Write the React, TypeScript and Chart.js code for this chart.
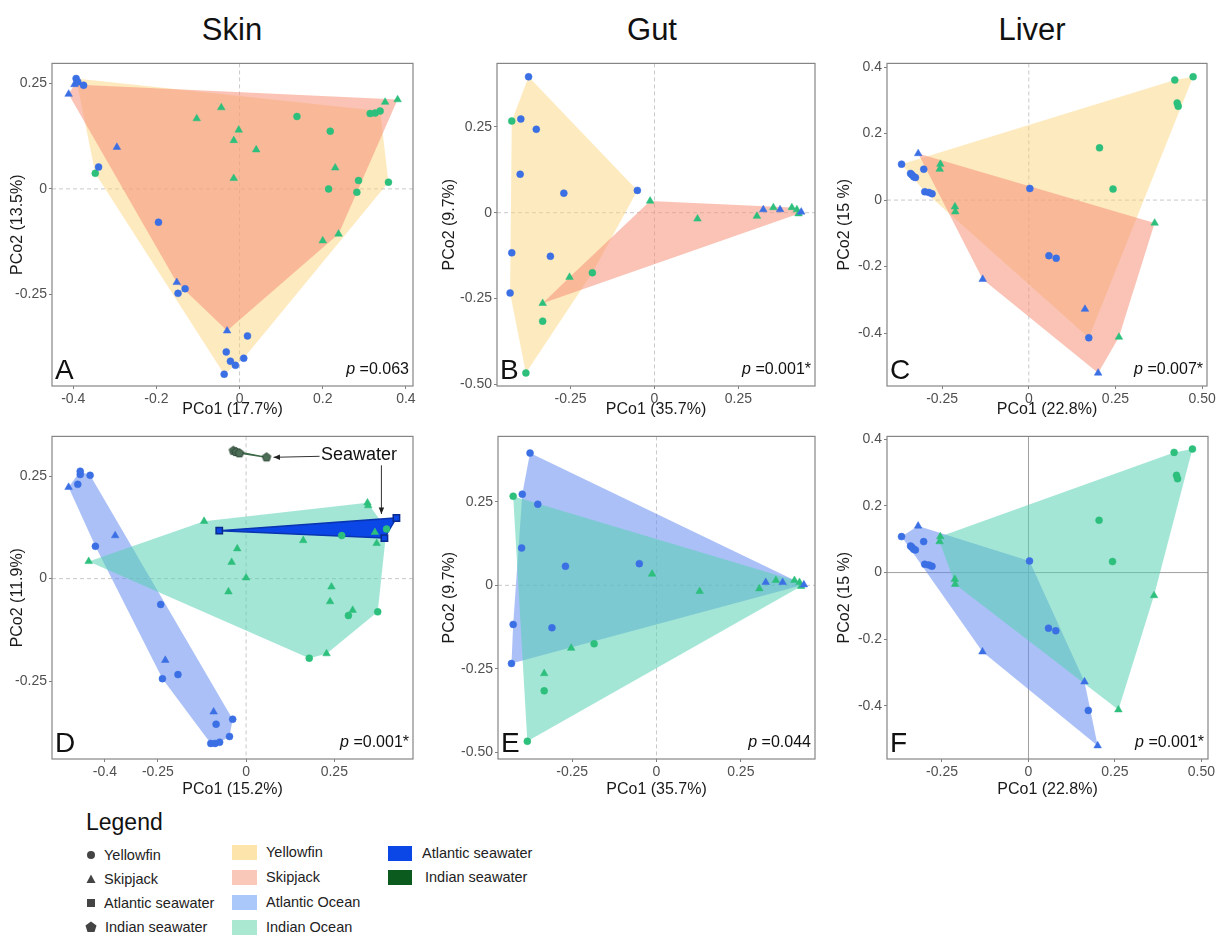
import React, { useEffect, useRef } from 'react';
import { Chart, registerables } from 'chart.js';

Chart.register(...registerables);

type Pt = [number, number];

const FONT = '"Liberation Sans", Arial, Helvetica, sans-serif';

// ---- Skin, panel A (hulls by species) ----
const skinA_yellowfinAtlantic: Pt[] = [
  [-0.393, 0.262], [-0.389, 0.254], [-0.375, 0.246], [-0.339, 0.052], [-0.195, -0.079],
  [-0.148, -0.248], [-0.131, -0.237], [0.019, -0.349], [-0.032, -0.387], [-0.022, -0.409],
  [-0.01, -0.419], [0.01, -0.402], [-0.037, -0.44],
];
const skinA_skipjackAtlantic: Pt[] = [
  [-0.411, 0.225], [-0.397, 0.248], [-0.295, 0.099], [-0.151, -0.222], [-0.03, -0.337],
];
const skinA_yellowfinIndian: Pt[] = [
  [-0.347, 0.037], [0.138, 0.172], [0.218, 0.137], [0.214, 0.0], [0.286, 0.02],
  [0.282, -0.008], [0.314, 0.179], [0.326, 0.18], [0.338, 0.185], [0.358, 0.016],
];
const skinA_skipjackIndian: Pt[] = [
  [-0.103, 0.167], [-0.044, 0.193], [-0.002, 0.14], [-0.014, 0.115], [0.04, 0.093],
  [-0.014, 0.025], [0.23, 0.05], [0.2, -0.123], [0.238, -0.107], [0.35, 0.206], [0.38, 0.212],
];

// ---- Skin with seawater, panel D (hulls by ocean) ----
const skinD_yellowfinAtlantic: Pt[] = [
  [-0.477, 0.23], [-0.47, 0.262], [-0.47, 0.254], [-0.442, 0.252], [-0.427, 0.079],
  [-0.242, -0.063], [-0.237, -0.244], [-0.193, -0.234], [-0.085, -0.355], [-0.038, -0.343],
  [-0.047, -0.385], [-0.1, -0.402], [-0.088, -0.402], [-0.075, -0.399],
];
const skinD_skipjackAtlantic: Pt[] = [
  [-0.503, 0.223], [-0.371, 0.105], [-0.229, -0.199], [-0.092, -0.325],
];
const skinD_yellowfinIndian: Pt[] = [
  [0.271, 0.105], [0.398, 0.121], [0.29, -0.09], [0.373, -0.081], [0.179, -0.194],
];
const skinD_skipjackIndian: Pt[] = [
  [-0.446, 0.042], [-0.119, 0.14], [-0.025, 0.073], [-0.041, 0.04], [0.0, 0.002],
  [-0.05, -0.032], [0.162, 0.093], [0.344, 0.185], [0.346, 0.178], [0.365, 0.113],
  [0.37, 0.086], [0.242, -0.02], [0.238, -0.056], [0.302, -0.077], [0.228, -0.183],
];
const skinD_seawaterAtlantic: Pt[] = [[-0.076, 0.117], [0.426, 0.148], [0.392, 0.099]];
const skinD_seawaterIndian: Pt[] = [[-0.036, 0.312], [-0.028, 0.309], [-0.019, 0.306], [0.058, 0.296]];

// ---- Gut, panels B and E ----
const gut_yellowfinAtlantic: Pt[] = [
  [-0.375, 0.396], [-0.398, 0.273], [-0.352, 0.243], [-0.4, 0.112], [-0.27, 0.057],
  [-0.051, 0.065], [-0.425, -0.117], [-0.31, -0.127], [-0.43, -0.234],
];
const gut_yellowfinIndian: Pt[] = [[-0.425, 0.267], [-0.185, -0.175], [-0.333, -0.316], [-0.383, -0.467]];
const gut_skipjackIndian: Pt[] = [
  [-0.013, 0.034], [-0.253, -0.188], [-0.333, -0.264], [0.128, -0.018], [0.305, -0.01],
  [0.354, 0.015], [0.409, 0.015], [0.424, 0.009], [0.429, -0.003],
];
const gut_skipjackAtlantic: Pt[] = [[0.324, 0.009], [0.374, 0.009], [0.437, 0.002]];

// ---- Liver, panels C and F ----
const liver_yellowfinAtlantic: Pt[] = [
  [-0.367, 0.108], [-0.341, 0.08], [-0.337, 0.076], [-0.332, 0.07], [-0.327, 0.068],
  [-0.303, 0.093], [-0.3, 0.025], [-0.288, 0.023], [-0.279, 0.019], [0.003, 0.035],
  [0.058, -0.167], [0.079, -0.175], [0.173, -0.414],
];
const liver_skipjackAtlantic: Pt[] = [[-0.319, 0.14], [-0.133, -0.238], [0.162, -0.328], [0.2, -0.52]];
const liver_yellowfinIndian: Pt[] = [
  [0.421, 0.361], [0.474, 0.371], [0.428, 0.292], [0.431, 0.282], [0.204, 0.157], [0.243, 0.033],
];
const liver_skipjackIndian: Pt[] = [
  [-0.255, 0.108], [-0.257, 0.093], [-0.213, -0.02], [-0.212, -0.035], [0.363, -0.069], [0.26, -0.412],
];

// ---- axes ----
const skinA_xTicks = [-0.4, -0.2, 0, 0.2, 0.4];
const skinA_xLabels = ['-0.4', '-0.2', '0', '0.2', '0.4'];
const skinD_xTicks = [-0.4, -0.25, 0, 0.25];
const skinD_xLabels = ['-0.4', '-0.25', '0', '0.25'];
const skin_yTicks = [-0.25, 0, 0.25];
const skin_yLabels = ['-0.25', '0', '0.25'];
const gut_xTicks = [-0.25, 0, 0.25];
const gut_xLabels = ['-0.25', '0', '0.25'];
const gut_yTicks = [-0.5, -0.25, 0, 0.25];
const gut_yLabels = ['-0.50', '-0.25', '0', '0.25'];
const liver_xTicks = [-0.25, 0, 0.25, 0.5];
const liver_xLabels = ['-0.25', '0', '0.25', '0.50'];
const liver_yTicks = [-0.4, -0.2, 0, 0.2, 0.4];
const liver_yLabels = ['-0.4', '-0.2', '0', '0.2', '0.4'];

const columnTitles = ['Skin', 'Gut', 'Liver'];
const pValues = ['0.063', '0.001*', '0.007*', '0.001*', '0.044', '0.001*'];

const ATL = '#3b6fe4';
const IND = '#2dbf7c';
const HULL_YF = 'rgba(252, 210, 120, 0.47)';
const HULL_SJ = 'rgba(245, 145, 120, 0.55)';
const HULL_ATL = 'rgba(100, 140, 240, 0.55)';
const HULL_IND = 'rgba(90, 210, 180, 0.55)';
const SEA_ATL = '#0b46e6';
const SEA_IND = '#0b5a1e';

function convexHull(pts: Pt[]): Pt[] {
  const s = [...pts].sort((a, b) => a[0] - b[0] || a[1] - b[1]);
  const cross = (o: Pt, a: Pt, b: Pt) => (a[0] - o[0]) * (b[1] - o[1]) - (a[1] - o[1]) * (b[0] - o[0]);
  const lower: Pt[] = [];
  for (const p of s) {
    while (lower.length >= 2 && cross(lower[lower.length - 2], lower[lower.length - 1], p) <= 0) lower.pop();
    lower.push(p);
  }
  const upper: Pt[] = [];
  for (let i = s.length - 1; i >= 0; i--) {
    const p = s[i];
    while (upper.length >= 2 && cross(upper[upper.length - 2], upper[upper.length - 1], p) <= 0) upper.pop();
    upper.push(p);
  }
  upper.pop();
  lower.pop();
  const h = lower.concat(upper);
  h.push(h[0]);
  return h;
}

function pentagon(r: number, fill: string, stroke: string) {
  const c = document.createElement('canvas');
  const s = Math.ceil(r * 2 + 3);
  c.width = s;
  c.height = s;
  const ctx = c.getContext('2d')!;
  ctx.beginPath();
  for (let i = 0; i < 5; i++) {
    const a = -Math.PI / 2 + (i * 2 * Math.PI) / 5;
    ctx.lineTo(s / 2 + r * Math.cos(a), s / 2 + r * Math.sin(a));
  }
  ctx.closePath();
  ctx.fillStyle = fill;
  ctx.fill();
  ctx.strokeStyle = stroke;
  ctx.lineWidth = 1;
  ctx.stroke();
  return c;
}

type Group = { pts: Pt[]; color: string; style: string; border?: string };
type Hull = { pts: Pt[]; fill: string; border?: string; width?: number };

type PanelProps = {
  left: number; right: number; top: number; bottom: number;
  yTitleX: number; xTitleY: number;
  xTitle: string; yTitle: string;
  xMin: number; xMax: number; yMin: number; yMax: number;
  xTicks: number[]; xLabels: string[]; yTicks: number[]; yLabels: string[];
  groups: Group[]; hulls: Hull[];
  letter: string; p: string;
  solidZero?: boolean; seawater?: boolean;
};

function Panel(props: PanelProps) {
  const ref = useRef<HTMLCanvasElement | null>(null);
  const cl = props.yTitleX - 12;
  const ct = props.top - 10;
  const cr = props.right + 14;
  const cb = props.xTitleY + 12;
  const w = cr - cl;
  const h = cb - ct;

  useEffect(() => {
    if (!ref.current) return;
    const pointSets = props.groups.map((g, i) => {
      let style: any = g.style;
      let radius = g.style === 'triangle' ? 4.4 : 3.5;
      if (g.style === 'pentagon') style = pentagon(4.5, '#4d6e57', '#2d4535');
      if (g.style === 'rect') radius = 4.5;
      return {
        type: 'scatter' as const,
        data: g.pts.map(([x, y]) => ({ x, y })),
        pointStyle: style,
        pointRadius: radius,
        backgroundColor: g.color,
        borderColor: g.border ?? g.color,
        borderWidth: g.border ? 1.5 : 0.5,
        order: i,
      };
    });
    const hullSets = props.hulls.map((hl, i) => ({
      type: 'line' as const,
      data: convexHull(hl.pts).map(([x, y]) => ({ x, y })),
      backgroundColor: hl.fill,
      borderColor: hl.border ?? 'rgba(0,0,0,0)',
      borderWidth: hl.width ?? 0.01,
      pointRadius: 0,
      tension: 0,
      fill: 'shape' as const,
      order: 30 - i,
    }));

    const framePlugin = {
      id: 'frame',
      beforeDatasetsDraw(chart: any) {
        const { ctx, chartArea: a, scales } = chart;
        const x0 = scales.x.getPixelForValue(0);
        const y0 = scales.y.getPixelForValue(0);
        ctx.save();
        ctx.lineWidth = 1;
        ctx.strokeStyle = props.solidZero ? '#a0a0a0' : '#c9c9c9';
        ctx.setLineDash(props.solidZero ? [] : [4, 3]);
        ctx.beginPath();
        ctx.moveTo(x0, a.top);
        ctx.lineTo(x0, a.bottom);
        ctx.moveTo(a.left, y0);
        ctx.lineTo(a.right, y0);
        ctx.stroke();
        ctx.restore();
      },
      afterDatasetsDraw(chart: any) {
        const { ctx, chartArea: a, scales } = chart;
        ctx.save();
        ctx.strokeStyle = '#858585';
        ctx.lineWidth = 1.2;
        ctx.strokeRect(a.left, a.top, a.right - a.left, a.bottom - a.top);
        if (props.seawater) {
          const arrow = (x1: number, y1: number, x2: number, y2: number) => {
            const ang = Math.atan2(y2 - y1, x2 - x1);
            ctx.beginPath();
            ctx.moveTo(x1, y1);
            ctx.lineTo(x2, y2);
            ctx.stroke();
            ctx.beginPath();
            ctx.moveTo(x2, y2);
            ctx.lineTo(x2 - 7 * Math.cos(ang - 0.4), y2 - 7 * Math.sin(ang - 0.4));
            ctx.lineTo(x2 - 7 * Math.cos(ang + 0.4), y2 - 7 * Math.sin(ang + 0.4));
            ctx.closePath();
            ctx.fill();
          };
          ctx.strokeStyle = '#333';
          ctx.fillStyle = '#222';
          ctx.lineWidth = 1;
          const last = skinD_seawaterIndian[skinD_seawaterIndian.length - 1];
          const tx = scales.x.getPixelForValue(last[0]) + 7;
          const ty = scales.y.getPixelForValue(last[1]);
          arrow(tx + 46, ty - 1, tx, ty);
          const top = skinD_seawaterAtlantic.reduce((m, p) => (p[1] > m[1] ? p : m));
          const vx = scales.x.getPixelForValue(top[0]) - 15;
          const vy = scales.y.getPixelForValue(top[1]);
          arrow(vx, ty + 8, vx, vy - 4);
        }
        ctx.restore();
      },
    };

    const scaleBase = {
      type: 'linear' as const,
      grid: { drawOnChartArea: false, drawTicks: true, tickLength: 3, color: '#808080' },
      border: { display: false },
    };

    const chart = new Chart(ref.current, {
      type: 'scatter',
      data: { datasets: [...pointSets, ...hullSets] as any },
      plugins: [framePlugin],
      options: {
        animation: false,
        responsive: false,
        layout: { padding: { top: props.top - ct, right: cr - props.right, left: 0, bottom: 0 } },
        plugins: { legend: { display: false }, tooltip: { enabled: false } },
        scales: {
          x: {
            ...scaleBase,
            min: props.xMin,
            max: props.xMax,
            afterBuildTicks: (axis: any) => { axis.ticks = props.xTicks.map((v) => ({ value: v })); },
            afterFit: (axis: any) => { axis.height = cb - props.bottom; },
            ticks: {
              autoSkip: false, maxRotation: 0, padding: 2, color: '#505050',
              font: { family: FONT, size: 14 },
              callback: (_v: any, i: number) => props.xLabels[i],
            },
            title: {
              display: true, text: props.xTitle, color: '#1a1a1a',
              font: { family: FONT, size: 16 }, padding: { top: 0, bottom: 12 - 9.6 },
            },
          },
          y: {
            ...scaleBase,
            min: props.yMin,
            max: props.yMax,
            afterBuildTicks: (axis: any) => { axis.ticks = props.yTicks.map((v) => ({ value: v })); },
            afterFit: (axis: any) => { axis.width = props.left - cl; },
            ticks: {
              autoSkip: false, padding: 2, color: '#505050',
              font: { family: FONT, size: 14 },
              callback: (_v: any, i: number) => props.yLabels[i],
            },
            title: {
              display: true, text: props.yTitle, color: '#1a1a1a',
              font: { family: FONT, size: 16 }, padding: { top: 12 - 9.6, bottom: 0 },
            },
          },
        },
      },
    });
    return () => chart.destroy();
  }, []);

  return (
    <>
      <canvas ref={ref} width={w} height={h} style={{ position: 'absolute', left: cl, top: ct, width: w, height: h }} />
      <div style={{ position: 'absolute', left: props.left + 3, top: props.bottom - 30, fontSize: 28, lineHeight: '28px', color: '#111' }}>
        {props.letter}
      </div>
      <div style={{ position: 'absolute', right: 1228 - (props.right - 4), top: props.bottom - 25, fontSize: 16, lineHeight: '16px', color: '#111', whiteSpace: 'nowrap' }}>
        <i>p</i> ={props.p}
      </div>
    </>
  );
}

const topRow = { top: 63, bottom: 386, xTitleY: 410 };
const botRow = { top: 436, bottom: 759, xTitleY: 790 };

export default function App() {
  const gutBySpecies: Hull[] = [
    { pts: [...gut_yellowfinAtlantic, ...gut_yellowfinIndian], fill: HULL_YF },
    { pts: [...gut_skipjackAtlantic, ...gut_skipjackIndian], fill: HULL_SJ },
  ];
  const gutByOcean: Hull[] = [
    { pts: [...gut_yellowfinAtlantic, ...gut_skipjackAtlantic], fill: HULL_ATL },
    { pts: [...gut_yellowfinIndian, ...gut_skipjackIndian], fill: HULL_IND },
  ];
  const liverBySpecies: Hull[] = [
    { pts: [...liver_yellowfinAtlantic, ...liver_yellowfinIndian], fill: HULL_YF },
    { pts: [...liver_skipjackAtlantic, ...liver_skipjackIndian], fill: HULL_SJ },
  ];
  const liverByOcean: Hull[] = [
    { pts: [...liver_yellowfinAtlantic, ...liver_skipjackAtlantic], fill: HULL_ATL },
    { pts: [...liver_yellowfinIndian, ...liver_skipjackIndian], fill: HULL_IND },
  ];
  const gutGroups: Group[] = [
    { pts: gut_yellowfinAtlantic, color: ATL, style: 'circle' },
    { pts: gut_skipjackAtlantic, color: ATL, style: 'triangle' },
    { pts: gut_yellowfinIndian, color: IND, style: 'circle' },
    { pts: gut_skipjackIndian, color: IND, style: 'triangle' },
  ];
  const liverGroups: Group[] = [
    { pts: liver_yellowfinAtlantic, color: ATL, style: 'circle' },
    { pts: liver_skipjackAtlantic, color: ATL, style: 'triangle' },
    { pts: liver_yellowfinIndian, color: IND, style: 'circle' },
    { pts: liver_skipjackIndian, color: IND, style: 'triangle' },
  ];

  const titleX = [232, 652, 1032];
  const shapeItems = ['Yellowfin', 'Skipjack', 'Atlantic seawater', 'Indian seawater'];
  const shapeY = [855, 879, 903, 927];
  const fillItems = ['Yellowfin', 'Skipjack', 'Atlantic Ocean', 'Indian Ocean'];
  const fillColors = ['#fde4aa', '#fac8b9', '#aac8fa', '#aae8d2'];
  const fillY = [852, 877, 902, 927];
  const seaItems = ['Atlantic seawater', 'Indian seawater'];
  const seaColors = [SEA_ATL, SEA_IND];
  const seaY = [853, 877];

  const shapeIcon = (i: number) => {
    const c = '#444';
    if (i === 0) return <circle cx={6} cy={6} r={4} fill={c} />;
    if (i === 1) return <polygon points="6,1.5 10.5,10 1.5,10" fill={c} />;
    if (i === 2) return <rect x={2} y={2} width={8} height={8} fill={c} />;
    return <polygon points="6,0.5 11.5,4.5 9.5,11 2.5,11 0.5,4.5" fill={c} />;
  };

  return (
    <div style={{ position: 'absolute', left: 0, top: 0, width: 1228, height: 936, background: '#fff', fontFamily: FONT, color: '#1a1a1a', overflow: 'hidden' }}>
      {columnTitles.map((t, i) => (
        <div key={t} style={{ position: 'absolute', left: titleX[i] - 100, width: 200, top: 11, textAlign: 'center', fontSize: 31, lineHeight: '38px', color: '#111' }}>{t}</div>
      ))}

      <Panel left={52} right={413} {...topRow} yTitleX={18}
        xTitle="PCo1 (17.7%)" yTitle="PCo2 (13.5%)"
        xMin={-0.451} xMax={0.417} yMin={-0.468} yMax={0.298}
        xTicks={skinA_xTicks} xLabels={skinA_xLabels} yTicks={skin_yTicks} yLabels={skin_yLabels}
        groups={[
          { pts: skinA_yellowfinAtlantic, color: ATL, style: 'circle' },
          { pts: skinA_skipjackAtlantic, color: ATL, style: 'triangle' },
          { pts: skinA_yellowfinIndian, color: IND, style: 'circle' },
          { pts: skinA_skipjackIndian, color: IND, style: 'triangle' },
        ]}
        hulls={[
          { pts: [...skinA_yellowfinAtlantic, ...skinA_yellowfinIndian], fill: HULL_YF },
          { pts: [...skinA_skipjackAtlantic, ...skinA_skipjackIndian], fill: HULL_SJ },
        ]}
        letter="A" p={pValues[0]} />

      <Panel left={497} right={815} {...topRow} yTitleX={450}
        xTitle="PCo1 (35.7%)" yTitle="PCo2 (9.7%)"
        xMin={-0.469} xMax={0.478} yMin={-0.505} yMax={0.435}
        xTicks={gut_xTicks} xLabels={gut_xLabels} yTicks={gut_yTicks} yLabels={gut_yLabels}
        groups={gutGroups} hulls={gutBySpecies} letter="B" p={pValues[1]} />

      <Panel left={887} right={1207} {...topRow} yTitleX={845}
        xTitle="PCo1 (22.8%)" yTitle="PCo2 (15 %)"
        xMin={-0.409} xMax={0.514} yMin={-0.559} yMax={0.411}
        xTicks={liver_xTicks} xLabels={liver_xLabels} yTicks={liver_yTicks} yLabels={liver_yLabels}
        groups={liverGroups} hulls={liverBySpecies} letter="C" p={pValues[2]} />

      <Panel left={52} right={413} {...botRow} yTitleX={18}
        xTitle="PCo1 (15.2%)" yTitle="PCo2 (11.9%)"
        xMin={-0.55} xMax={0.473} yMin={-0.44} yMax={0.347}
        xTicks={skinD_xTicks} xLabels={skinD_xLabels} yTicks={skin_yTicks} yLabels={skin_yLabels}
        groups={[
          { pts: skinD_yellowfinAtlantic, color: ATL, style: 'circle' },
          { pts: skinD_skipjackAtlantic, color: ATL, style: 'triangle' },
          { pts: skinD_yellowfinIndian, color: IND, style: 'circle' },
          { pts: skinD_skipjackIndian, color: IND, style: 'triangle' },
          { pts: skinD_seawaterAtlantic, color: SEA_ATL, style: 'rect', border: '#0a2a8c' },
          { pts: skinD_seawaterIndian, color: '#4d6e57', style: 'pentagon' },
        ]}
        hulls={[
          { pts: [...skinD_yellowfinAtlantic, ...skinD_skipjackAtlantic], fill: HULL_ATL },
          { pts: [...skinD_yellowfinIndian, ...skinD_skipjackIndian], fill: HULL_IND },
          { pts: skinD_seawaterAtlantic, fill: SEA_ATL, border: '#0a35b0', width: 1.5 },
          { pts: skinD_seawaterIndian, fill: SEA_IND, border: '#3d6b4a', width: 1.2 },
        ]}
        letter="D" p={pValues[3]} seawater />

      <Panel left={498} right={815} {...botRow} yTitleX={450}
        xTitle="PCo1 (35.7%)" yTitle="PCo2 (9.7%)"
        xMin={-0.47} xMax={0.47} yMin={-0.52} yMax={0.446}
        xTicks={gut_xTicks} xLabels={gut_xLabels} yTicks={gut_yTicks} yLabels={gut_yLabels}
        groups={gutGroups} hulls={gutByOcean} letter="E" p={pValues[4]} />

      <Panel left={887} right={1208} {...botRow} yTitleX={845}
        xTitle="PCo1 (22.8%)" yTitle="PCo2 (15 %)"
        xMin={-0.409} xMax={0.519} yMin={-0.56} yMax={0.409}
        xTicks={liver_xTicks} xLabels={liver_xLabels} yTicks={liver_yTicks} yLabels={liver_yLabels}
        groups={liverGroups} hulls={liverByOcean} letter="F" p={pValues[5]} solidZero />

      <div style={{ position: 'absolute', left: 321, top: 444, fontSize: 18, lineHeight: '20px', color: '#111' }}>Seawater</div>

      <div style={{ position: 'absolute', left: 86, top: 808, fontSize: 23, lineHeight: '28px', color: '#111' }}>Legend</div>
      {shapeItems.map((t, i) => (
        <div key={'s' + t} style={{ position: 'absolute', left: 85, top: shapeY[i] - 9, height: 18, display: 'flex', alignItems: 'center', fontSize: 14.5, color: '#222' }}>
          <svg width={12} height={12} style={{ marginRight: i === 3 ? 8 : 7 }}>{shapeIcon(i)}</svg>
          <span>{t}</span>
        </div>
      ))}
      {fillItems.map((t, i) => (
        <div key={'f' + t} style={{ position: 'absolute', left: 232, top: fillY[i] - 9, height: 18, display: 'flex', alignItems: 'center', fontSize: 14.5, color: '#222' }}>
          <div style={{ width: 25, height: 15, background: fillColors[i], marginRight: 9 }} />
          <span>{t}</span>
        </div>
      ))}
      {seaItems.map((t, i) => (
        <div key={'w' + t} style={{ position: 'absolute', left: 388, top: seaY[i] - 9, height: 18, display: 'flex', alignItems: 'center', fontSize: 14.5, color: '#222' }}>
          <div style={{ width: 24, height: 15, background: seaColors[i], marginRight: 10 + i * 3 }} />
          <span>{t}</span>
        </div>
      ))}
    </div>
  );
}
